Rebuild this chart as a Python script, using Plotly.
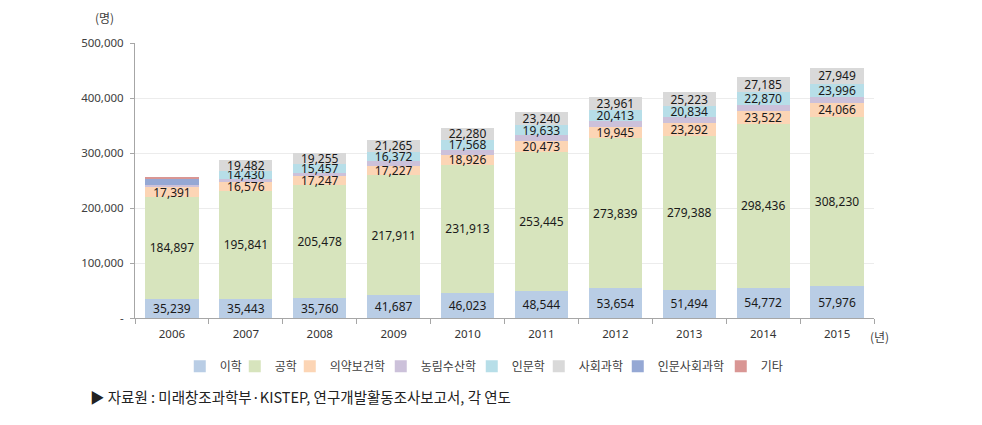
import plotly.graph_objects as go

years = ["2006", "2007", "2008", "2009", "2010", "2011", "2012", "2013", "2014", "2015"]

science = [35239, 35443, 35760, 41687, 46023, 48544, 53654, 51494, 54772, 57976]
engineering = [184897, 195841, 205478, 217911, 231913, 253445, 273839, 279388, 298436, 308230]
medical = [17391, 16576, 17247, 17227, 18926, 20473, 19945, 23292, 23522, 24066]
agri = [5000, 5500, 6000, 9000, 9000, 9500, 10000, 10500, 11000, 12000]
humanities = [None, 14430, 15457, 16372, 17568, 19633, 20413, 20834, 22870, 23996]
social = [None, 19482, 19255, 21265, 22280, 23240, 23961, 25223, 27185, 27949]
hum_social = [9500, None, None, None, None, None, None, None, None, None]
others = [4500, None, None, None, None, None, None, None, None, None]

series = [
    ("이학", science, "#b9cde5", True),
    ("공학", engineering, "#d7e4bd", True),
    ("의약보건학", medical, "#fcd5b5", True),
    ("농림수산학", agri, "#ccc1da", False),
    ("인문학", humanities, "#b7dee8", True),
    ("사회과학", social, "#d9d9d9", True),
    ("인문사회과학", hum_social, "#95a8d4", False),
    ("기타", others, "#d99694", False),
]

ytick_vals = [0, 100000, 200000, 300000, 400000, 500000]
ytick_text = ["-", "100,000", "200,000", "300,000", "400,000", "500,000"]

num_font = "Noto Sans"
kr_font = "Noto Sans CJK KR"

fig = go.Figure()
for i, (name, vals, color, show_text) in enumerate(series):
    last = i == len(series) - 1
    fig.add_trace(go.Bar(
        x=years, y=vals, name=name,
        marker=dict(color=color, line=dict(width=0)),
        text=[f"{v:,}" if (show_text and v is not None) else "" for v in vals],
        textposition="inside" if show_text else "none",
        insidetextanchor="middle",
        textangle=0,
        constraintext="none",
        textfont=dict(family=num_font, size=12, color="#1a1a1a"),
        legendwidth=12 * len(name) + (4 if last else -14),
        hoverinfo="skip",
    ))

# page body has an 8px margin; plot area in page: x 135..874, y 43..318
fig.update_layout(
    barmode="stack",
    bargap=0.28,
    width=974, height=417,
    paper_bgcolor="white", plot_bgcolor="white",
    margin=dict(l=127, r=108, t=35, b=107),
    font=dict(family=kr_font, color="#404040"),
    legend=dict(
        orientation="h", x=0.476, xanchor="center", y=-0.175, yanchor="middle",
        font=dict(family=kr_font, size=12, color="#404040"),
        itemwidth=30, traceorder="normal",
    ),
    xaxis=dict(
        type="category",
        showline=True, linecolor="#a6a6a6", linewidth=1,
        ticks="outside", tickson="boundaries", ticklen=5, tickcolor="#a6a6a6",
        ticklabelstandoff=5,
        tickfont=dict(family=num_font, size=11.5, color="#333333"),
        showgrid=False,
    ),
    yaxis=dict(
        range=[0, 500000],
        tickvals=ytick_vals, ticktext=ytick_text,
        showline=True, linecolor="#a6a6a6", linewidth=1,
        ticks="outside", ticklen=4, tickcolor="#a6a6a6",
        ticklabelstandoff=4,
        showgrid=True, gridcolor="#ececec", gridwidth=1,
        tickfont=dict(family=num_font, size=11.5, color="#404040"),
        zeroline=False,
    ),
    annotations=[
        dict(text="(명)", xref="paper", yref="paper", x=-0.0406, y=1.091,
             xanchor="center", yanchor="middle", showarrow=False,
             font=dict(family=kr_font, size=12, color="#404040")),
        dict(text="(년)", xref="paper", yref="paper", x=1.007, y=-0.069,
             xanchor="center", yanchor="middle", showarrow=False,
             font=dict(family=kr_font, size=12, color="#404040")),
        dict(text="▶ 자료원 : 미래창조과학부·KISTEP, 연구개발활동조사보고서, 각 연도",
             xref="paper", yref="paper", x=-0.0636, y=-0.287,
             xanchor="left", yanchor="middle", showarrow=False,
             font=dict(family=kr_font, size=14.5, color="#222222")),
    ],
)

fig.write_html("out.html")
